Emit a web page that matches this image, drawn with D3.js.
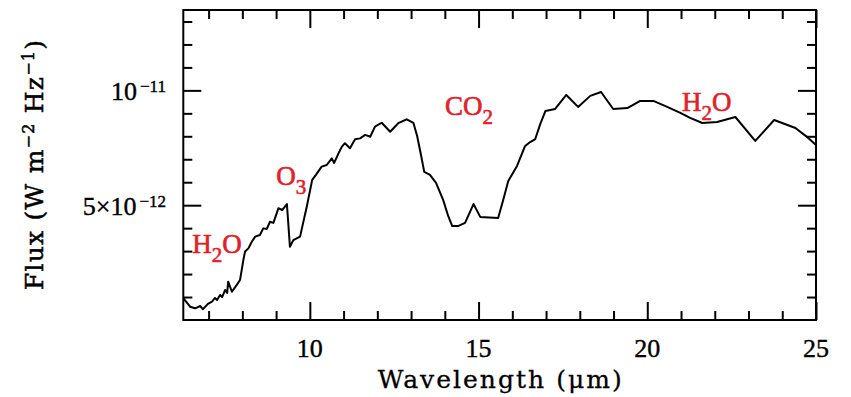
<!DOCTYPE html>
<html><head><meta charset="utf-8">
<script src="https://cdn.jsdelivr.net/npm/d3@7"></script>
<style>body{margin:0;background:#fff} svg{display:block}</style>
</head><body><svg id="c" width="851" height="397"></svg>
<script>
// Spectrum: wavelength (µm) and flux (units of 1e-12 W m^-2 Hz^-1)
const wavelength = [6.25, 6.45, 6.60, 6.75, 6.83, 6.98, 7.10, 7.19, 7.25, 7.34, 7.40, 7.49, 7.55, 7.58, 7.69, 7.83, 7.93, 8.03, 8.08, 8.18, 8.28, 8.38, 8.52, 8.62, 8.72, 8.82, 8.92, 9.07, 9.18, 9.32, 9.41, 9.51, 9.71, 9.91, 10.07, 10.18, 10.35, 10.50, 10.65, 10.72, 10.85, 10.95, 11.04, 11.19, 11.34, 11.49, 11.64, 11.79, 11.93, 12.13, 12.38, 12.62, 12.87, 13.07, 13.18, 13.30, 13.39, 13.56, 13.74, 13.95, 14.10, 14.22, 14.39, 14.60, 14.85, 15.05, 15.58, 15.73, 15.88, 16.14, 16.38, 16.53, 16.68, 16.83, 16.98, 17.27, 17.60, 17.95, 18.31, 18.63, 18.99, 19.41, 19.79, 20.18, 20.59, 20.98, 21.27, 21.63, 22.07, 22.61, 23.20, 23.76, 24.39, 24.77, 25.00];
const flux = [0.95, 0.58, 0.51, 0.61, 0.47, 0.70, 0.80, 0.96, 0.87, 1.09, 1.00, 1.31, 1.18, 1.67, 1.23, 1.52, 1.74, 2.61, 2.98, 3.12, 3.41, 3.63, 3.70, 3.99, 3.96, 4.28, 4.23, 4.87, 4.79, 5.05, 3.19, 3.48, 3.63, 4.94, 6.10, 6.32, 6.68, 6.75, 7.04, 6.84, 7.26, 7.55, 7.70, 7.48, 7.87, 7.91, 8.06, 7.98, 8.42, 8.59, 8.20, 8.57, 8.74, 8.58, 8.01, 7.14, 6.45, 6.32, 5.97, 5.23, 4.53, 4.09, 4.09, 4.23, 5.05, 4.49, 4.44, 5.23, 6.05, 6.71, 7.58, 7.75, 7.88, 8.54, 9.10, 9.19, 9.80, 9.28, 9.76, 9.93, 9.19, 9.23, 9.54, 9.54, 9.28, 9.02, 8.80, 8.58, 8.62, 8.84, 7.80, 8.71, 8.36, 7.93, 7.62];

const xMajorTicks = [10, 15, 20, 25];
const xTickLabels = ["10", "15", "20", "25"];
const xMinorTicks = [7, 8, 9, 11, 12, 13, 14, 16, 17, 18, 19, 21, 22, 23, 24];
const yMajorTicks = [5, 10];
const yTickMantissa = ["5×10", "10"];
const yTickExponent = ["−12", "−11"];
const yMinorTicks = [1, 2, 3, 4, 6, 7, 8, 9, 11, 12, 13];

const labelMain = ["H", "O", "CO", "H"];
const labelSub = ["2", "3", "2", "2"];
const labelTail = ["O", "", "", "O"];
const labelWavelength = [7.25, 9.45, 14.72, 21.76];
const labelFlux = [2.92, 5.88, 8.93, 9.10];

const m = {l: 183.3, r: 816, t: 10, b: 320};
const x = d3.scaleLinear().domain([6.25, 25]).range([m.l, m.r]);
const y = d3.scaleLinear().domain([0, 13.5]).range([m.b, m.t]);
const svg = d3.select("#c");
const RED = "#e0202a";
const TICKFONT = "'Liberation Serif', serif";
const TITLEFONT = "'DejaVu Serif', serif";

function ticks(gen, vals, len, tr) {
  const g = svg.append("g").attr("transform", tr)
    .call(gen.tickValues(vals).tickSize(-len).tickFormat(""));
  g.select(".domain").remove();
  g.selectAll("line").attr("stroke", "#000").attr("stroke-width", 2);
}
const plotW = m.r - m.l, plotH = m.b - m.t;
ticks(d3.axisBottom(x), xMajorTicks, 18, `translate(0,${m.b})`);
ticks(d3.axisBottom(x), xMinorTicks, 9, `translate(0,${m.b})`);
ticks(d3.axisTop(x), xMajorTicks, 18, `translate(0,${m.t})`);
ticks(d3.axisTop(x), xMinorTicks, 9, `translate(0,${m.t})`);
ticks(d3.axisLeft(y), yMajorTicks, 18, `translate(${m.l},0)`);
ticks(d3.axisLeft(y), yMinorTicks, 9, `translate(${m.l},0)`);
ticks(d3.axisRight(y), yMajorTicks, 18, `translate(${m.r},0)`);
ticks(d3.axisRight(y), yMinorTicks, 9, `translate(${m.r},0)`);

svg.append("rect").attr("x", m.l).attr("y", m.t).attr("width", plotW).attr("height", plotH)
  .attr("fill", "none").attr("stroke", "#000").attr("stroke-width", 2);

// curve
const pts = wavelength.map((w, i) => [w, flux[i]]);
svg.append("path").datum(pts)
  .attr("d", d3.line().x(d => x(d[0])).y(d => y(d[1])))
  .attr("fill", "none").attr("stroke", "#000").attr("stroke-width", 2).attr("stroke-linejoin", "round");

// x tick labels
svg.append("g").selectAll("text").data(xMajorTicks).join("text")
  .attr("x", d => x(d)).attr("y", 357)
  .attr("text-anchor", "middle").attr("font-family", TICKFONT).attr("font-size", 26)
  .attr("stroke", "#000").attr("stroke-width", 0.4)
  .text((d, i) => xTickLabels[i]);

// y tick labels
yMajorTicks.forEach((v, i) => {
  const t = svg.append("text").attr("x", 166).attr("y", y(v) + 9.5)
    .attr("text-anchor", "end").attr("font-family", TICKFONT).attr("font-size", 26)
    .attr("stroke", "#000").attr("stroke-width", 0.4);
  t.append("tspan").text(yTickMantissa[i]);
  t.append("tspan").attr("dx", 3).attr("dy", -8).attr("font-size", 17).text(yTickExponent[i]);
});

// axis titles
svg.append("text").attr("x", (m.l + m.r) / 2).attr("y", 388)
  .attr("text-anchor", "middle").attr("font-family", TITLEFONT).attr("font-size", 25)
  .attr("stroke", "#000").attr("stroke-width", 0.3)
  .attr("textLength", 244).attr("lengthAdjust", "spacing")
  .text("Wavelength (μm)");

const yt = svg.append("text").attr("transform", "translate(43,165) rotate(-90)")
  .attr("text-anchor", "middle").attr("font-family", TITLEFONT).attr("font-size", 25)
  .attr("stroke", "#000").attr("stroke-width", 0.5)
  .attr("textLength", 250).attr("lengthAdjust", "spacing");
yt.append("tspan").text("Flux (W m");
yt.append("tspan").attr("dy", -9).attr("font-size", 16).text("−2");
yt.append("tspan").attr("dy", 9).text(" Hz");
yt.append("tspan").attr("dy", -9).attr("font-size", 16).text("−1");
yt.append("tspan").attr("dy", 9).text(")");

// molecule annotations
labelMain.forEach((s, i) => {
  const t = svg.append("text").attr("x", x(labelWavelength[i])).attr("y", y(labelFlux[i]))
    .attr("text-anchor", "middle").attr("font-family", TICKFONT).attr("font-size", 27)
    .attr("fill", RED).attr("stroke", RED).attr("stroke-width", 0.6);
  t.append("tspan").text(s);
  t.append("tspan").attr("dy", 9).attr("font-size", 21).text(labelSub[i]);
  if (labelTail[i]) t.append("tspan").attr("dy", -9).text(labelTail[i]);
});
</script>
</body></html>
